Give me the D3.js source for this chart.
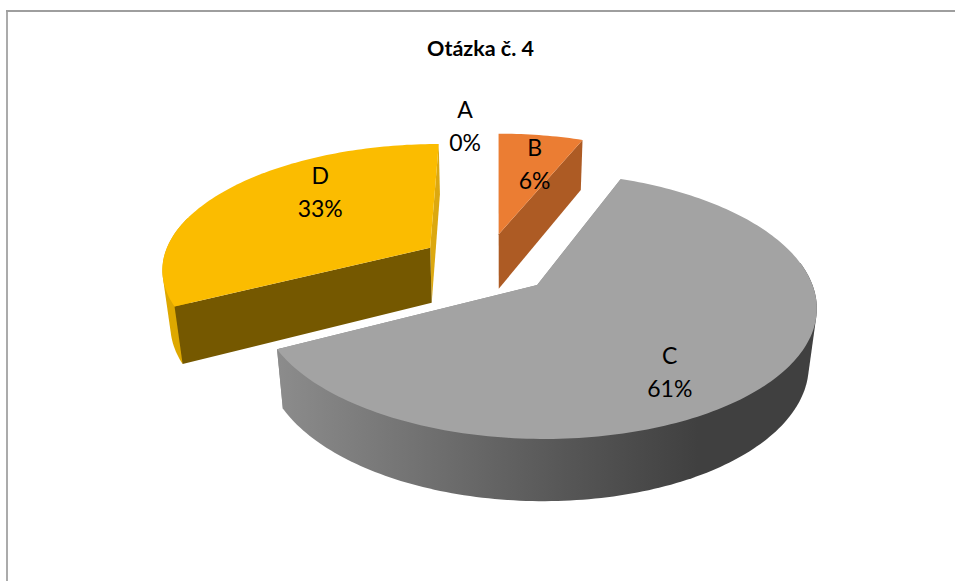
<!DOCTYPE html>
<html><head><meta charset="utf-8">
<script src="https://cdn.jsdelivr.net/npm/d3@7/dist/d3.min.js"></script>
<style>html,body{margin:0;padding:0;background:#fff}svg{display:block}text{font-family:Lato,"Open Sans",sans-serif}</style>
</head><body><svg id="c" width="955" height="581"></svg>
<script>
const categories=["A","B","C","D"];
const values=[0,6,61.4,32.6];
const percentLabels=["0%","6%","61%","33%"];
const title="Otázka č. 4";
const topColors=["#5B9BD5","#EB7D33","#A3A3A3","#FBBC00"];
const startFaceColors=["#5B9BD5","#AD5B24","#8C8C8C","#755800"];
const endFaceColors=["#5B9BD5","#AD5B24","#8C8C8C","#DCA810"];
const rimStops=[[],[],[[0,"#8C8C8C"],[.54,"#565656"],[.78,"#404040"],[1,"#404040"]],[[0,"#DEA800"],[1,"#DEA800"]]];
const labelRadius=[1.09,.69,.74,.69];
const labelTurn=[-5.4,2,13,16];

const svg=d3.select("#c");
const defs=svg.append("defs");
const W=955,H=581;
svg.append("rect").attr("width",W).attr("height",H).attr("fill","#fff");
svg.append("rect").attr("x",6).attr("y",10).attr("width",2).attr("height",H-10).attr("fill","#ABABAB");
svg.append("rect").attr("x",6).attr("y",10).attr("width",W-6).attr("height",2).attr("fill","#9E9E9E");

const vx=497,vy=284,Rx=275,Rz=130,Depth=58,tilt=.154,shrink=.025,explode=.2505,O=[-.04,-.161];
const sx=d3.scaleLinear().domain([0,1]).range([0,Rx]);
const sz=d3.scaleLinear().domain([0,1]).range([0,Rz]);
function project(X,Z,h){const p=1/(1-tilt*Z+shrink*h);return [vx+sx(X)*p,vy+(sz(Z)+Depth*h)*p];}
const arcs=d3.pie().sort(null).value(d=>d)(values);
function apex(a){const m=(a.startAngle+a.endAngle)/2;return [O[0]+explode*Math.sin(m),O[1]-explode*Math.cos(m)];}
function pt(a,ang,r,h){const c=apex(a);return project(c[0]+r*Math.sin(ang),c[1]-r*Math.cos(ang),h);}
const line=d3.line();
function sweep(a,from,to,h){const n=Math.max(2,Math.ceil(Math.abs(to-from)/.02));return d3.range(n+1).map(i=>pt(a,from+(to-from)*i/n,1,h));}
const rad=d3.scaleLinear().domain([0,360]).range([0,2*Math.PI]);
const frontFrom=rad(80),frontTo=rad(285);

[1,3,2].forEach(i=>{
  const a=arcs[i],g=svg.append("g");
  const s=a.startAngle,e=a.endAngle;
  const cut=ang=>[pt(a,ang,0,0),pt(a,ang,1,0),pt(a,ang,1,1),pt(a,ang,0,1)];
  // trailing radial face
  g.append("path").attr("d",line(cut(e))+"Z").attr("fill",endFaceColors[i]);
  // outer rim: only the part that faces the viewer
  const r0=Math.max(s,frontFrom),r1=Math.min(e,frontTo);
  if(r1>r0){
    const pts=d3.polygonHull(sweep(a,r0,r1,0).concat(sweep(a,r0,r1,1)));
    const xs=pts.map(d=>d[0]);
    const gid="rim"+i;
    const lg=defs.append("linearGradient").attr("id",gid).attr("gradientUnits","userSpaceOnUse")
      .attr("x1",d3.min(xs)).attr("x2",d3.max(xs)).attr("y1",0).attr("y2",0);
    rimStops[i].forEach(st=>lg.append("stop").attr("offset",st[0]).attr("stop-color",st[1]));
    g.append("path").attr("d",line(pts)+"Z").attr("fill",`url(#${gid})`);
  }
  // leading radial face
  g.append("path").attr("d",line(cut(s))+"Z").attr("fill",startFaceColors[i]);
  // top
  const top=[pt(a,s,0,0)].concat(sweep(a,s,e,0));
  g.append("path").attr("d",line(top)+"Z").attr("fill",topColors[i]);
});

svg.append("text").attr("x",480.5).attr("y",56).attr("text-anchor","middle")
  .attr("font-size",21.5).attr("font-weight",700).attr("fill","#000").text(title);
arcs.forEach((a,i)=>{
  const m=(a.startAngle+a.endAngle)/2+rad(labelTurn[i]);
  const p=pt(a,m,labelRadius[i],0);
  const t=svg.append("text").attr("text-anchor","middle").attr("font-size",23).attr("fill","#000");
  t.append("tspan").attr("x",p[0]).attr("y",p[1]-8).text(categories[i]);
  t.append("tspan").attr("x",p[0]).attr("y",p[1]+25).text(percentLabels[i]);
});
</script></body></html>
